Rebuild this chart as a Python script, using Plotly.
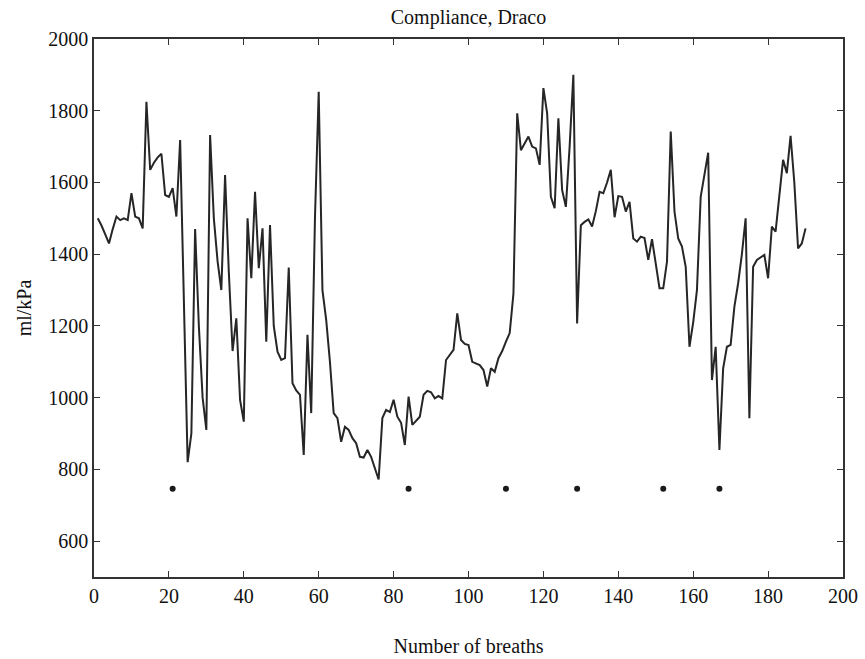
import plotly.graph_objects as go

breaths = list(range(1, 191))
compliance = [
    1500, 1480, 1455, 1430, 1470, 1505, 1495, 1500, 1495, 1570,
    1505, 1500, 1472, 1825, 1635, 1655, 1670, 1680, 1565, 1560,
    1584, 1505, 1718, 1250, 820, 900, 1470, 1200, 1000, 910,
    1732, 1500, 1380, 1300, 1621, 1350, 1130, 1221, 994, 933,
    1500, 1333, 1574, 1361, 1472, 1156, 1481, 1200, 1128, 1105,
    1110, 1363, 1040, 1020, 1008, 840, 1175, 957, 1500, 1853,
    1300, 1217, 1100, 957, 943, 877, 919, 910, 887, 873,
    835, 833, 854, 835, 800, 772, 943, 966, 960, 994,
    947, 930, 868, 1003, 924, 935, 947, 1008, 1019, 1015,
    998, 1005, 998, 1105, 1120, 1133, 1235, 1161, 1150, 1147,
    1100, 1095, 1091, 1077, 1031, 1082, 1072, 1110, 1130, 1156,
    1180, 1290, 1793, 1690, 1710, 1728, 1700, 1695, 1649, 1863,
    1793, 1560, 1528, 1779, 1579, 1532, 1700, 1900, 1207, 1481,
    1490, 1497, 1477, 1520, 1574, 1570, 1600, 1635, 1503, 1562,
    1560, 1519, 1546, 1444, 1435, 1449, 1445, 1384, 1442, 1370,
    1305, 1305, 1379, 1742, 1519, 1444, 1421, 1365, 1142, 1210,
    1300, 1560, 1616, 1683, 1049, 1142, 854, 1082, 1142, 1147,
    1254, 1319, 1400, 1500, 943, 1365, 1384, 1390, 1398, 1333,
    1477, 1463, 1560, 1663, 1626, 1730, 1600, 1416, 1430, 1472,
]

marker_breaths = [21, 84, 110, 129, 152, 167]
marker_values = [746, 746, 746, 746, 746, 746]

x_ticks = [0, 20, 40, 60, 80, 100, 120, 140, 160, 180, 200]
y_ticks = [600, 800, 1000, 1200, 1400, 1600, 1800, 2000]

FONT = "Liberation Serif, Times New Roman, serif"

fig = go.Figure()
fig.add_trace(go.Scatter(
    x=breaths, y=compliance, mode="lines",
    line=dict(color="#262626", width=2),
    showlegend=False, hoverinfo="x+y",
))
fig.add_trace(go.Scatter(
    x=marker_breaths, y=marker_values, mode="markers",
    marker=dict(color="#1a1a1a", size=6),
    showlegend=False,
))

axis_common = dict(
    showline=True, linecolor="#333333", linewidth=1.5, mirror="ticks",
    ticks="inside", ticklen=6, tickcolor="#333333", tickwidth=1,
    showgrid=False, zeroline=False, automargin=False,
    tickfont=dict(family=FONT, size=20, color="#111111"),
)

fig.update_layout(
    width=865, height=659,
    margin=dict(l=94, r=22, t=39, b=82),
    paper_bgcolor="white", plot_bgcolor="white",
    font=dict(family=FONT, size=20, color="#111111"),
    title=dict(text="Compliance, Draco", x=0.5, xref="paper",
               y=1 - 17 / 659, yref="container", yanchor="middle",
               font=dict(family=FONT, size=20, color="#111111")),
    xaxis=dict(range=[0, 200], tickvals=x_ticks,
               title=dict(text="Number of breaths", standoff=33,
                          font=dict(family=FONT, size=20, color="#111111")),
               **axis_common),
    yaxis=dict(range=[500, 2000], tickvals=y_ticks,
               title=dict(text="ml/kPa", standoff=11,
                          font=dict(family=FONT, size=20, color="#111111")),
               **axis_common),
)

fig.write_html("out.html")
